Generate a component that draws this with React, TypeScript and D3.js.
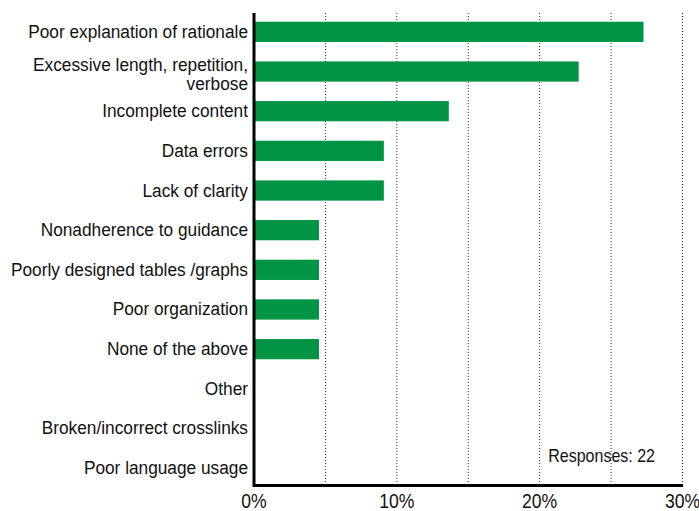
import React from "react";
import * as d3 from "d3";

const categories = [
  "Poor explanation of rationale",
  "Excessive length, repetition,|verbose",
  "Incomplete content",
  "Data errors",
  "Lack of clarity",
  "Nonadherence to guidance",
  "Poorly designed tables /graphs",
  "Poor organization",
  "None of the above",
  "Other",
  "Broken/incorrect crosslinks",
  "Poor language usage",
];
const values = [27.27, 22.73, 13.64, 9.09, 9.09, 4.55, 4.55, 4.55, 4.55, 0, 0, 0];
const xTicks = [0, 10, 20, 30];
const gridTicks = [5, 10, 15, 20, 25, 30];
const note = "Responses: 22";

const W = 699, H = 511;
const FONT = "'Liberation Sans', Arial, sans-serif";

export default function App() {
  const x = d3.scaleLinear().domain([0, 30]).range([254, 682.5]);
  const y = d3.scaleBand<string>().domain(categories).range([13, 487]).paddingInner(0.49).paddingOuter(0.22);
  const bh = y.bandwidth();
  return (
    <svg width={W} height={H} style={{ position: "absolute", left: 0, top: 0, background: "#fff" }}>
      {gridTicks.map((t) => (
        <line key={t} x1={x(t)} x2={x(t)} y1={13} y2={485} stroke="#333" strokeWidth={1} strokeDasharray="1,2" />
      ))}
      {categories.map((c, i) => (
        <rect key={c} x={x(0)} y={y(c)!} width={x(values[i]) - x(0)} height={bh} fill="#009444" />
      ))}
      {categories.map((c) => {
        const lines = c.split("|");
        const cy = y(c)! + bh / 2;
        const y0 = lines.length > 1 ? cy - 1 : cy + 6;
        return lines.map((l, j) => (
          <text key={c + j} transform={`translate(248,${y0 + j * 19}) scale(0.96,1)`} textAnchor="end" fontFamily={FONT} fontSize={18} fill="#111">{l}</text>
        ));
      })}
      <line x1={254} x2={254} y1={13} y2={487} stroke="#000" strokeWidth={3} />
      <line x1={253} x2={683} y1={485.5} y2={485.5} stroke="#000" strokeWidth={3} />
      {xTicks.map((t) => (
        <text key={t} transform={`translate(${x(t)},508) scale(0.88,1)`} textAnchor="middle" fontFamily={FONT} fontSize={20} fill="#111">{t}%</text>
      ))}
      <text transform="translate(655,462) scale(0.89,1)" textAnchor="end" fontFamily={FONT} fontSize={18} fill="#111">{note}</text>
    </svg>
  );
}
